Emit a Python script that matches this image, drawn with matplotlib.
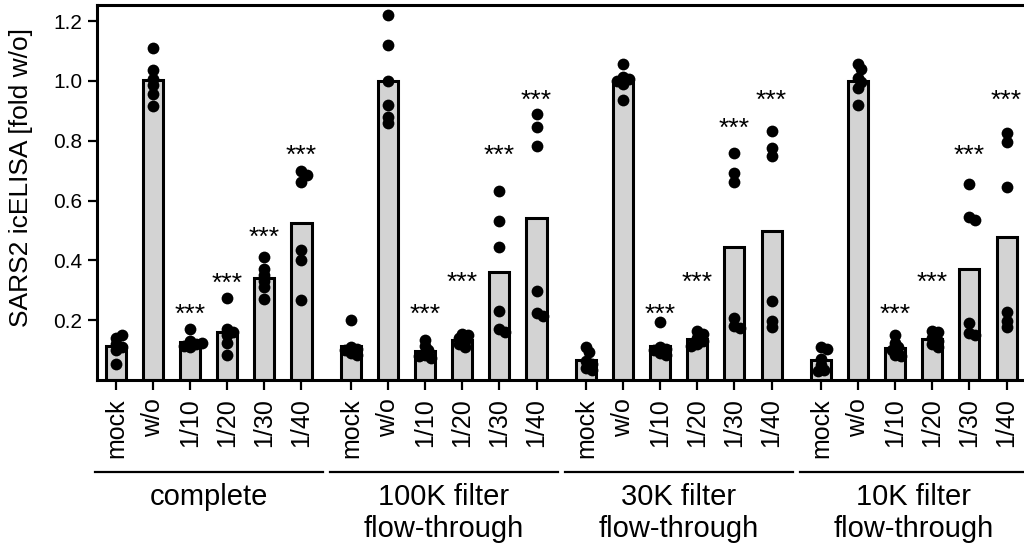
import numpy as np
import matplotlib
matplotlib.use('Agg')
import matplotlib.pyplot as plt
from matplotlib.transforms import blended_transform_factory

plt.rcParams['font.family'] = ['Liberation Sans', 'DejaVu Sans']

# data (fold of w/o)
groups = ['complete', '100K filter\nflow-through', '30K filter\nflow-through', '10K filter\nflow-through']
conditions = ['mock', 'w/o', '1/10', '1/20', '1/30', '1/40']

complete = [
    [0.14, 0.15, 0.12, 0.10, 0.055, 0.11],
    [1.11, 1.036, 1.008, 0.986, 0.955, 0.915],
    [0.17, 0.13, 0.12, 0.11, 0.115, 0.125],
    [0.275, 0.17, 0.16, 0.15, 0.125, 0.085],
    [0.41, 0.37, 0.35, 0.33, 0.31, 0.27],
    [0.698, 0.685, 0.663, 0.434, 0.401, 0.267],
]
filter_100k = [
    [0.2, 0.11, 0.105, 0.1, 0.09, 0.085],
    [1.222, 1.119, 0.999, 0.919, 0.88, 0.858],
    [0.135, 0.115, 0.1, 0.085, 0.075, 0.08],
    [0.155, 0.15, 0.14, 0.13, 0.12, 0.11],
    [0.632, 0.531, 0.445, 0.23, 0.169, 0.161],
    [0.889, 0.846, 0.783, 0.297, 0.223, 0.215],
]
filter_30k = [
    [0.11, 0.095, 0.065, 0.055, 0.04, 0.035],
    [1.056, 1.013, 1.005, 1.0, 0.99, 0.936],
    [0.195, 0.11, 0.105, 0.1, 0.09, 0.085],
    [0.165, 0.155, 0.14, 0.13, 0.12, 0.115],
    [0.759, 0.693, 0.663, 0.206, 0.18, 0.175],
    [0.833, 0.777, 0.749, 0.264, 0.198, 0.178],
]
filter_10k = [
    [0.11, 0.105, 0.07, 0.05, 0.035, 0.03],
    [1.056, 1.04, 1.01, 0.995, 0.975, 0.92],
    [0.15, 0.125, 0.11, 0.1, 0.085, 0.08],
    [0.165, 0.16, 0.14, 0.13, 0.12, 0.11],
    [0.657, 0.546, 0.535, 0.192, 0.156, 0.15],
    [0.826, 0.796, 0.646, 0.228, 0.198, 0.178],
]
all_data = [complete, filter_100k, filter_30k, filter_10k]

# height of the *** marks (for 1/10, 1/20, 1/30, 1/40)
star_levels = [
    [0.243, 0.347, 0.50, 0.775],
    [0.244, 0.35, 0.774, 0.96],
    [0.244, 0.35, 0.866, 0.96],
    [0.244, 0.35, 0.774, 0.96],
]


def swarm(ax, xc, vals, min_dist=5.0, step=3.0):
    # simple beeswarm in display pixels, dots allowed to overlap a bit
    pts = ax.transData.transform(np.column_stack([np.full(len(vals), xc), vals]))
    placed = []
    for px, py in pts:
        k = 0
        shift = None
        while shift is None:
            cands = [0.0] if k == 0 else [k * step, -k * step]
            for c in cands:
                if all((px + c - qx) ** 2 + (py - qy) ** 2 >= min_dist ** 2 for qx, qy in placed):
                    shift = c
                    break
            k += 1
        placed.append((px + shift, py))
    return ax.transData.inverted().transform(np.array(placed))


fig = plt.figure(figsize=(10.24, 5.6), dpi=100)
ax = fig.add_axes([97 / 1024, 180 / 560, 928.5 / 1024, 375 / 560])

group_step = 6.333
n = len(conditions)
positions = []
for g in range(len(groups)):
    positions.append([g * group_step + i for i in range(n)])

ax.set_xlim(-0.51, positions[-1][-1] + 0.51)
ax.set_ylim(0, 1.254)

for g, gdata in enumerate(all_data):
    for i, vals in enumerate(gdata):
        x = positions[g][i]
        ax.bar(x, np.mean(vals), width=0.54, color='#d3d3d3', edgecolor='black',
               linewidth=2.2, zorder=2)
        xy = swarm(ax, x, vals)
        ax.scatter(xy[:, 0], xy[:, 1], s=72, color='black', linewidths=0, zorder=3,
                   clip_on=False)
    for j, lvl in enumerate(star_levels[g]):
        ax.annotate('***', (positions[g][j + 2], lvl), xytext=(0, -10.5),
                    textcoords='offset points', ha='center', va='baseline',
                    fontsize=19, annotation_clip=False)

ax.set_xticks([p for row in positions for p in row])
ax.set_xticklabels(conditions * len(groups), rotation=90)
ax.set_yticks([0.2, 0.4, 0.6, 0.8, 1.0, 1.2])
ax.set_yticklabels(['0.2', '0.4', '0.6', '0.8', '1.0', '1.2'])
ax.tick_params(axis='x', length=7, width=1.6, pad=6, labelsize=18)
ax.tick_params(axis='y', length=6.5, width=1.6, pad=4, labelsize=15)
for side in ['top', 'left', 'bottom']:
    ax.spines[side].set_linewidth(2.2)
ax.spines['right'].set_visible(False)

ax.set_ylabel('SARS2 icELISA [fold w/o]', fontsize=19)
ax.yaxis.set_label_coords(-0.069, 0.54)

# group labels under the ticks
trans = blended_transform_factory(ax.transData, fig.transFigure)
for g, label in enumerate(groups):
    x0 = positions[g][0] - 0.57
    x1 = positions[g][-1] + 0.57
    ax.plot([x0, x1], [1 - 472 / 560] * 2, transform=trans, color='black',
            linewidth=1.6, clip_on=False)
    ax.text((x0 + x1) / 2, 1 - 483 / 560, label, transform=trans, ha='center',
            va='top', fontsize=21, linespacing=1.2)

fig.savefig('out.png', dpi=100)
